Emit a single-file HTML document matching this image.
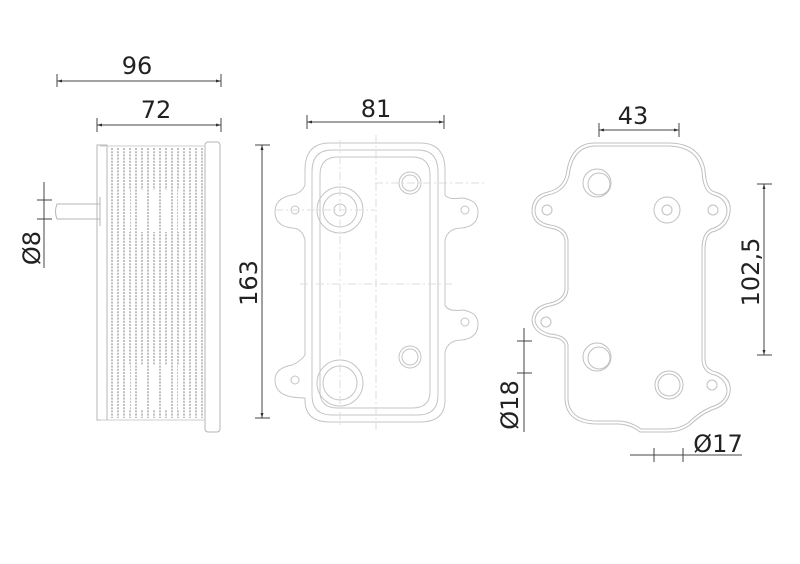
<!DOCTYPE html>
<html><head><meta charset="utf-8"><style>
html,body{margin:0;padding:0;background:#fff;}
svg{display:block;}
text{font-family:"DejaVu Sans","Liberation Sans",sans-serif;fill:#222;font-size:24px;}
</style></head><body>
<svg width="800" height="564" viewBox="0 0 800 564" xmlns="http://www.w3.org/2000/svg">
<defs>
<marker id="a" markerWidth="6" markerHeight="6" refX="5" refY="3" orient="auto-start-reverse"><path d="M0,1.5 L5,3 L0,4.5Z" fill="#333"/></marker>
</defs>
<!-- dimension lines -->
<g stroke="#444" stroke-width="1" fill="none">
 <line x1="57" y1="81" x2="221" y2="81" marker-start="url(#a)" marker-end="url(#a)"/>
 <line x1="57" y1="74" x2="57" y2="87"/><line x1="221" y1="74" x2="221" y2="87"/>
 <line x1="97" y1="125" x2="221" y2="125" marker-start="url(#a)" marker-end="url(#a)"/>
 <line x1="97" y1="118" x2="97" y2="132"/><line x1="221" y1="118" x2="221" y2="132"/>
 <line x1="262" y1="145" x2="262" y2="418" marker-start="url(#a)" marker-end="url(#a)"/>
 <line x1="255" y1="145" x2="270" y2="145"/><line x1="255" y1="418" x2="270" y2="418"/>
 <line x1="44" y1="182" x2="44" y2="268"/>
 <line x1="37" y1="200" x2="52" y2="200"/><line x1="37" y1="219" x2="52" y2="219"/>
 <line x1="307" y1="122" x2="444" y2="122" marker-start="url(#a)" marker-end="url(#a)"/>
 <line x1="307" y1="115" x2="307" y2="129"/><line x1="444" y1="115" x2="444" y2="129"/>
 <line x1="599" y1="130" x2="679" y2="130" marker-start="url(#a)" marker-end="url(#a)"/>
 <line x1="599" y1="123" x2="599" y2="137"/><line x1="679" y1="123" x2="679" y2="137"/>
 <line x1="764" y1="184" x2="764" y2="355" marker-start="url(#a)" marker-end="url(#a)"/>
 <line x1="757" y1="184" x2="772" y2="184"/><line x1="757" y1="355" x2="772" y2="355"/>
 <line x1="524" y1="328" x2="524" y2="432"/>
 <line x1="517" y1="341" x2="532" y2="341"/><line x1="517" y1="373" x2="532" y2="373"/>
 <line x1="630" y1="455" x2="742" y2="455"/>
 <line x1="654" y1="448" x2="654" y2="462"/><line x1="683" y1="448" x2="683" y2="462"/>
</g>
<!-- labels -->
<text x="137" y="74" text-anchor="middle">96</text>
<text x="156" y="118" text-anchor="middle">72</text>
<text x="376" y="117" text-anchor="middle">81</text>
<text x="633" y="124" text-anchor="middle">43</text>
<text x="718" y="452" text-anchor="middle">Ø17</text>
<text transform="translate(257,283) rotate(-90)" text-anchor="middle">163</text>
<text transform="translate(40,248) rotate(-90)" text-anchor="middle">Ø8</text>
<text transform="translate(759,272) rotate(-90)" text-anchor="middle">102,5</text>
<text transform="translate(518,405) rotate(-90)" text-anchor="middle">Ø18</text>

<!-- left side view -->
<g stroke="#b5b5b5" stroke-width="1" fill="none">
 <rect x="97" y="145" width="10" height="275"/>
 <rect x="205" y="142" width="15" height="290" rx="3"/>
 <path d="M57 204 L100 204 L100 219 L57 219 Q54 211.5 57 204Z"/>
 <line x1="100" y1="197" x2="100" y2="226"/>
</g>
<g stroke="#b0b0b0" stroke-width="1.6" fill="none" stroke-dasharray="2 1.2">
 <line x1="112" y1="148" x2="112" y2="418"/><line x1="118" y1="148" x2="118" y2="418"/>
 <line x1="124" y1="148" x2="124" y2="418"/><line x1="130" y1="148" x2="130" y2="418"/>
 <line x1="136" y1="148" x2="136" y2="418"/><line x1="142" y1="148" x2="142" y2="418"/>
 <line x1="148" y1="148" x2="148" y2="418"/><line x1="154" y1="148" x2="154" y2="418"/>
 <line x1="160" y1="148" x2="160" y2="418"/><line x1="166" y1="148" x2="166" y2="418"/>
 <line x1="172" y1="148" x2="172" y2="418"/><line x1="178" y1="148" x2="178" y2="418"/>
 <line x1="184" y1="148" x2="184" y2="418"/><line x1="190" y1="148" x2="190" y2="418"/>
 <line x1="196" y1="148" x2="196" y2="418"/><line x1="202" y1="148" x2="202" y2="418"/>
</g>
<g fill="#fff" stroke="none">
 <rect x="113" y="190" width="4" height="42"/><rect x="126" y="190" width="4" height="42"/>
 <rect x="139" y="190" width="4" height="42"/><rect x="152" y="190" width="4" height="42"/>
 <rect x="165" y="190" width="4" height="42"/><rect x="178" y="190" width="4" height="42"/>
 <rect x="191" y="190" width="4" height="42"/>
 <rect x="113" y="365" width="4" height="45"/><rect x="126" y="365" width="4" height="45"/>
 <rect x="139" y="365" width="4" height="45"/><rect x="152" y="365" width="4" height="45"/>
 <rect x="165" y="365" width="4" height="45"/><rect x="178" y="365" width="4" height="45"/>
 <rect x="191" y="365" width="4" height="45"/>
</g>
<g stroke="#ccc" fill="none">
 <line x1="100" y1="146" x2="205" y2="146"/><line x1="100" y1="420" x2="205" y2="420"/>
</g>

<!-- middle view -->
<g stroke="#c4c4c4" stroke-width="1" fill="none">
 <path d="M330 143 L420 143 Q445 143 445 170 L445 195 Q448 200 462 198 Q478 200 478 212 Q478 226 462 228 Q448 228 445 240 L445 305 Q448 312 462 310 Q478 312 478 324 Q478 338 462 340 Q448 340 445 352 L445 400 Q445 422 420 422 L330 422 Q305 422 305 400 L305 398 Q300 398 292 397 Q275 394 275 380 Q275 368 292 365 Q300 362 305 355 L305 240 Q302 228 292 228 Q275 226 275 212 Q275 198 292 195 Q302 193 305 185 L305 170 Q305 143 330 143Z"/>
 <path d="M332 150 L418 150 Q438 150 438 172 L438 395 Q438 415 418 415 L332 415 Q312 415 312 395 L312 172 Q312 150 332 150Z"/>
 <path d="M338 157 L412 157 Q430 157 430 175 L430 392 Q430 408 412 408 L338 408 Q320 408 320 392 L320 175 Q320 157 338 157Z"/>
 <circle cx="340" cy="210" r="23"/><circle cx="340" cy="210" r="17"/><circle cx="340" cy="210" r="6"/>
 <circle cx="340" cy="383" r="23"/><circle cx="340" cy="383" r="17"/>
 <circle cx="410" cy="183" r="11"/><circle cx="410" cy="183" r="8"/>
 <circle cx="410" cy="357" r="11"/><circle cx="410" cy="357" r="8"/>
 <circle cx="295" cy="210" r="4"/><circle cx="465" cy="210" r="4"/>
 <circle cx="465" cy="322" r="4"/><circle cx="295" cy="380" r="4"/>
</g>
<g stroke="#ddd" stroke-width="1" fill="none" stroke-dasharray="8 3 2 3">
 <line x1="376" y1="135" x2="376" y2="430"/>
 <line x1="340" y1="140" x2="340" y2="425"/>
 <line x1="300" y1="284" x2="455" y2="284"/>
 <line x1="275" y1="210" x2="375" y2="210"/>
 <line x1="375" y1="183" x2="485" y2="183"/>
</g>

<!-- right view -->
<g stroke="#c0c0c0" stroke-width="1" fill="none">
 <path d="M595 143 L668 143 Q700 143 705 170 Q706 190 715 192 Q732 197 730 212 Q728 228 712 232 Q705 235 705 250 L705 360 Q706 370 716 372 Q732 378 730 392 Q728 405 712 410 Q700 415 690 425 Q680 432 668 432 L640 432 Q630 424 618 424 L598 424 Q567 424 565 400 L565 345 Q563 338 550 337 Q533 333 532 320 Q533 306 550 303 Q563 300 565 290 L565 240 Q563 230 550 228 Q532 225 532 210 Q533 195 548 192 Q565 188 567 170 Q572 143 595 143Z"/>
 <path d="M596 146 L667 146 Q697 146 702 171 Q703 193 714 195 Q727 199 727 212 Q725 225 711 229 Q702 233 702 250 L702 360 Q703 373 715 375 Q727 380 727 392 Q725 403 711 407 Q699 412 688 423 Q679 429 668 429 L641 429 Q630 421 618 421 L598 421 Q570 421 568 400 L568 345 Q566 335 550 334 Q536 330 535 320 Q536 309 550 306 Q566 303 568 290 L568 240 Q566 227 550 225 Q535 222 535 210 Q536 198 548 195 Q568 191 570 170 Q575 146 596 146Z"/>
 <circle cx="597" cy="183" r="14"/><circle cx="599" cy="184" r="11"/>
 <circle cx="667" cy="210" r="13"/><circle cx="667" cy="210" r="5"/>
 <circle cx="597" cy="357" r="14"/><circle cx="599" cy="358" r="11"/>
 <circle cx="669" cy="385" r="14"/><circle cx="669" cy="385" r="11"/>
 <circle cx="547" cy="210" r="5"/><circle cx="713" cy="210" r="5"/>
 <circle cx="546" cy="322" r="5"/><circle cx="712" cy="385" r="5"/>
</g>
</svg>
</body></html>
